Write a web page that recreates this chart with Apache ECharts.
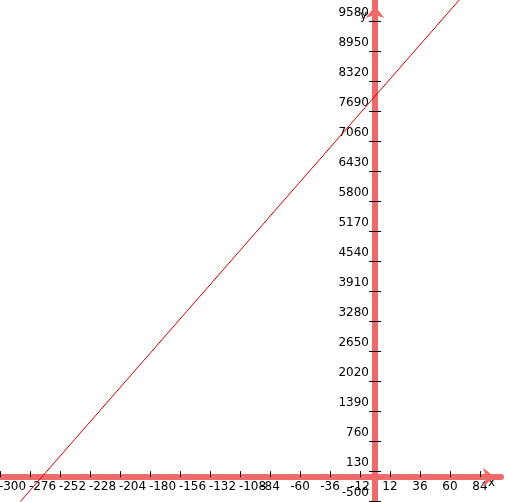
<!DOCTYPE html>
<html><head><meta charset="utf-8">
<script src="https://cdn.jsdelivr.net/npm/echarts@6/dist/echarts.min.js"></script>
<style>html,body{margin:0;padding:0;background:#fff}#c{width:508px;height:502px}</style>
</head><body><div id="c"></div>
<script>
// tick labels
const xTicks = [-300,-276,-252,-228,-204,-180,-156,-132,-108,-84,-60,-36,-12,12,36,60,84];
const yTicks = [-500,130,760,1390,2020,2650,3280,3910,4540,5170,5800,6430,7060,7690,8320,8950,9580];
// line series (straight line)
const lineX = [-300, 100];
const lineY = [-1000, 11000];

const X_MIN = -300, X_MAX = 100.8, Y_MIN = -500, Y_MAX = 10021;
const GW = 501, GH = 501;
// place axes through the origin using offsets (keeps labels next to the axis line)
const yAxisOffset = -(0 - X_MIN) / (X_MAX - X_MIN) * GW;
const xAxisOffset = -(0 - Y_MIN) / (Y_MAX - Y_MIN) * GH;

const AXIS = '#ef6b6b';
const FONT = 'DejaVu Sans';
const chart = echarts.init(document.getElementById('c'), null, {renderer:'canvas'});
chart.setOption({
  animation:false,
  backgroundColor:'#fff',
  grid:{left:0, top:0, width:GW, height:GH, containLabel:false, outerBoundsMode:'none'},
  xAxis:{
    type:'value', min:X_MIN, max:X_MAX, position:'bottom', offset:xAxisOffset,
    axisLine:{onZero:false, lineStyle:{color:AXIS, width:6}, symbol:['none','arrow'], symbolSize:[14,12], symbolOffset:[0,-6]},
    axisTick:{customValues:xTicks, inside:true, length:6, lineStyle:{color:'#000', width:1}},
    axisLabel:{customValues:xTicks, margin:4, color:'#000', fontSize:12, fontFamily:FONT,
      hideOverlap:false, showMinLabel:true, showMaxLabel:true,
      formatter:v => String(v).length >= 4 ? '{l|' + v + '}' : String(v),
      rich:{l:{padding:[0,0,0,25], color:'#000', fontSize:12, fontFamily:FONT}}},
    splitLine:{show:false},
    name:'x', nameLocation:'end', nameGap:-13, nameMoveOverlap:false,
    nameTextStyle:{color:'#000', fontSize:12, fontFamily:FONT, align:'left', verticalAlign:'top'}
  },
  yAxis:[{
    type:'value', min:Y_MIN, max:Y_MAX, position:'left', offset:yAxisOffset,
    axisLine:{onZero:false, lineStyle:{color:AXIS, width:6}, symbol:['none','arrow'], symbolSize:[14,12], symbolOffset:[0,-6]},
    axisTick:{customValues:yTicks, inside:false, length:6, lineStyle:{color:'#000', width:1}},
    axisLabel:{customValues:yTicks, margin:6, color:'#000', fontSize:12, fontFamily:FONT,
      hideOverlap:false, verticalAlign:'bottom', lineHeight:16, showMinLabel:true, showMaxLabel:true,
      formatter:v => String(v)},
    splitLine:{show:false},
    name:'y', nameLocation:'end', nameGap:-22, nameMoveOverlap:false,
    nameTextStyle:{color:'#000', fontSize:12, fontFamily:FONT, align:'right', padding:[0,8,0,0]}
  },{
    type:'value', min:Y_MIN, max:Y_MAX, position:'left', offset:yAxisOffset,
    axisLine:{show:false, onZero:false},
    axisTick:{customValues:yTicks, inside:true, length:6, lineStyle:{color:'#000', width:1}},
    axisLabel:{show:false},
    splitLine:{show:false}
  }],
  series:[{
    type:'line', xAxisIndex:0, yAxisIndex:0, showSymbol:false, symbol:'none',
    lineStyle:{color:'#d40000', width:1},
    data:lineX.map((x,i)=>[x, lineY[i]]),
    clip:true, silent:true
  }]
});
</script>
</body></html>
